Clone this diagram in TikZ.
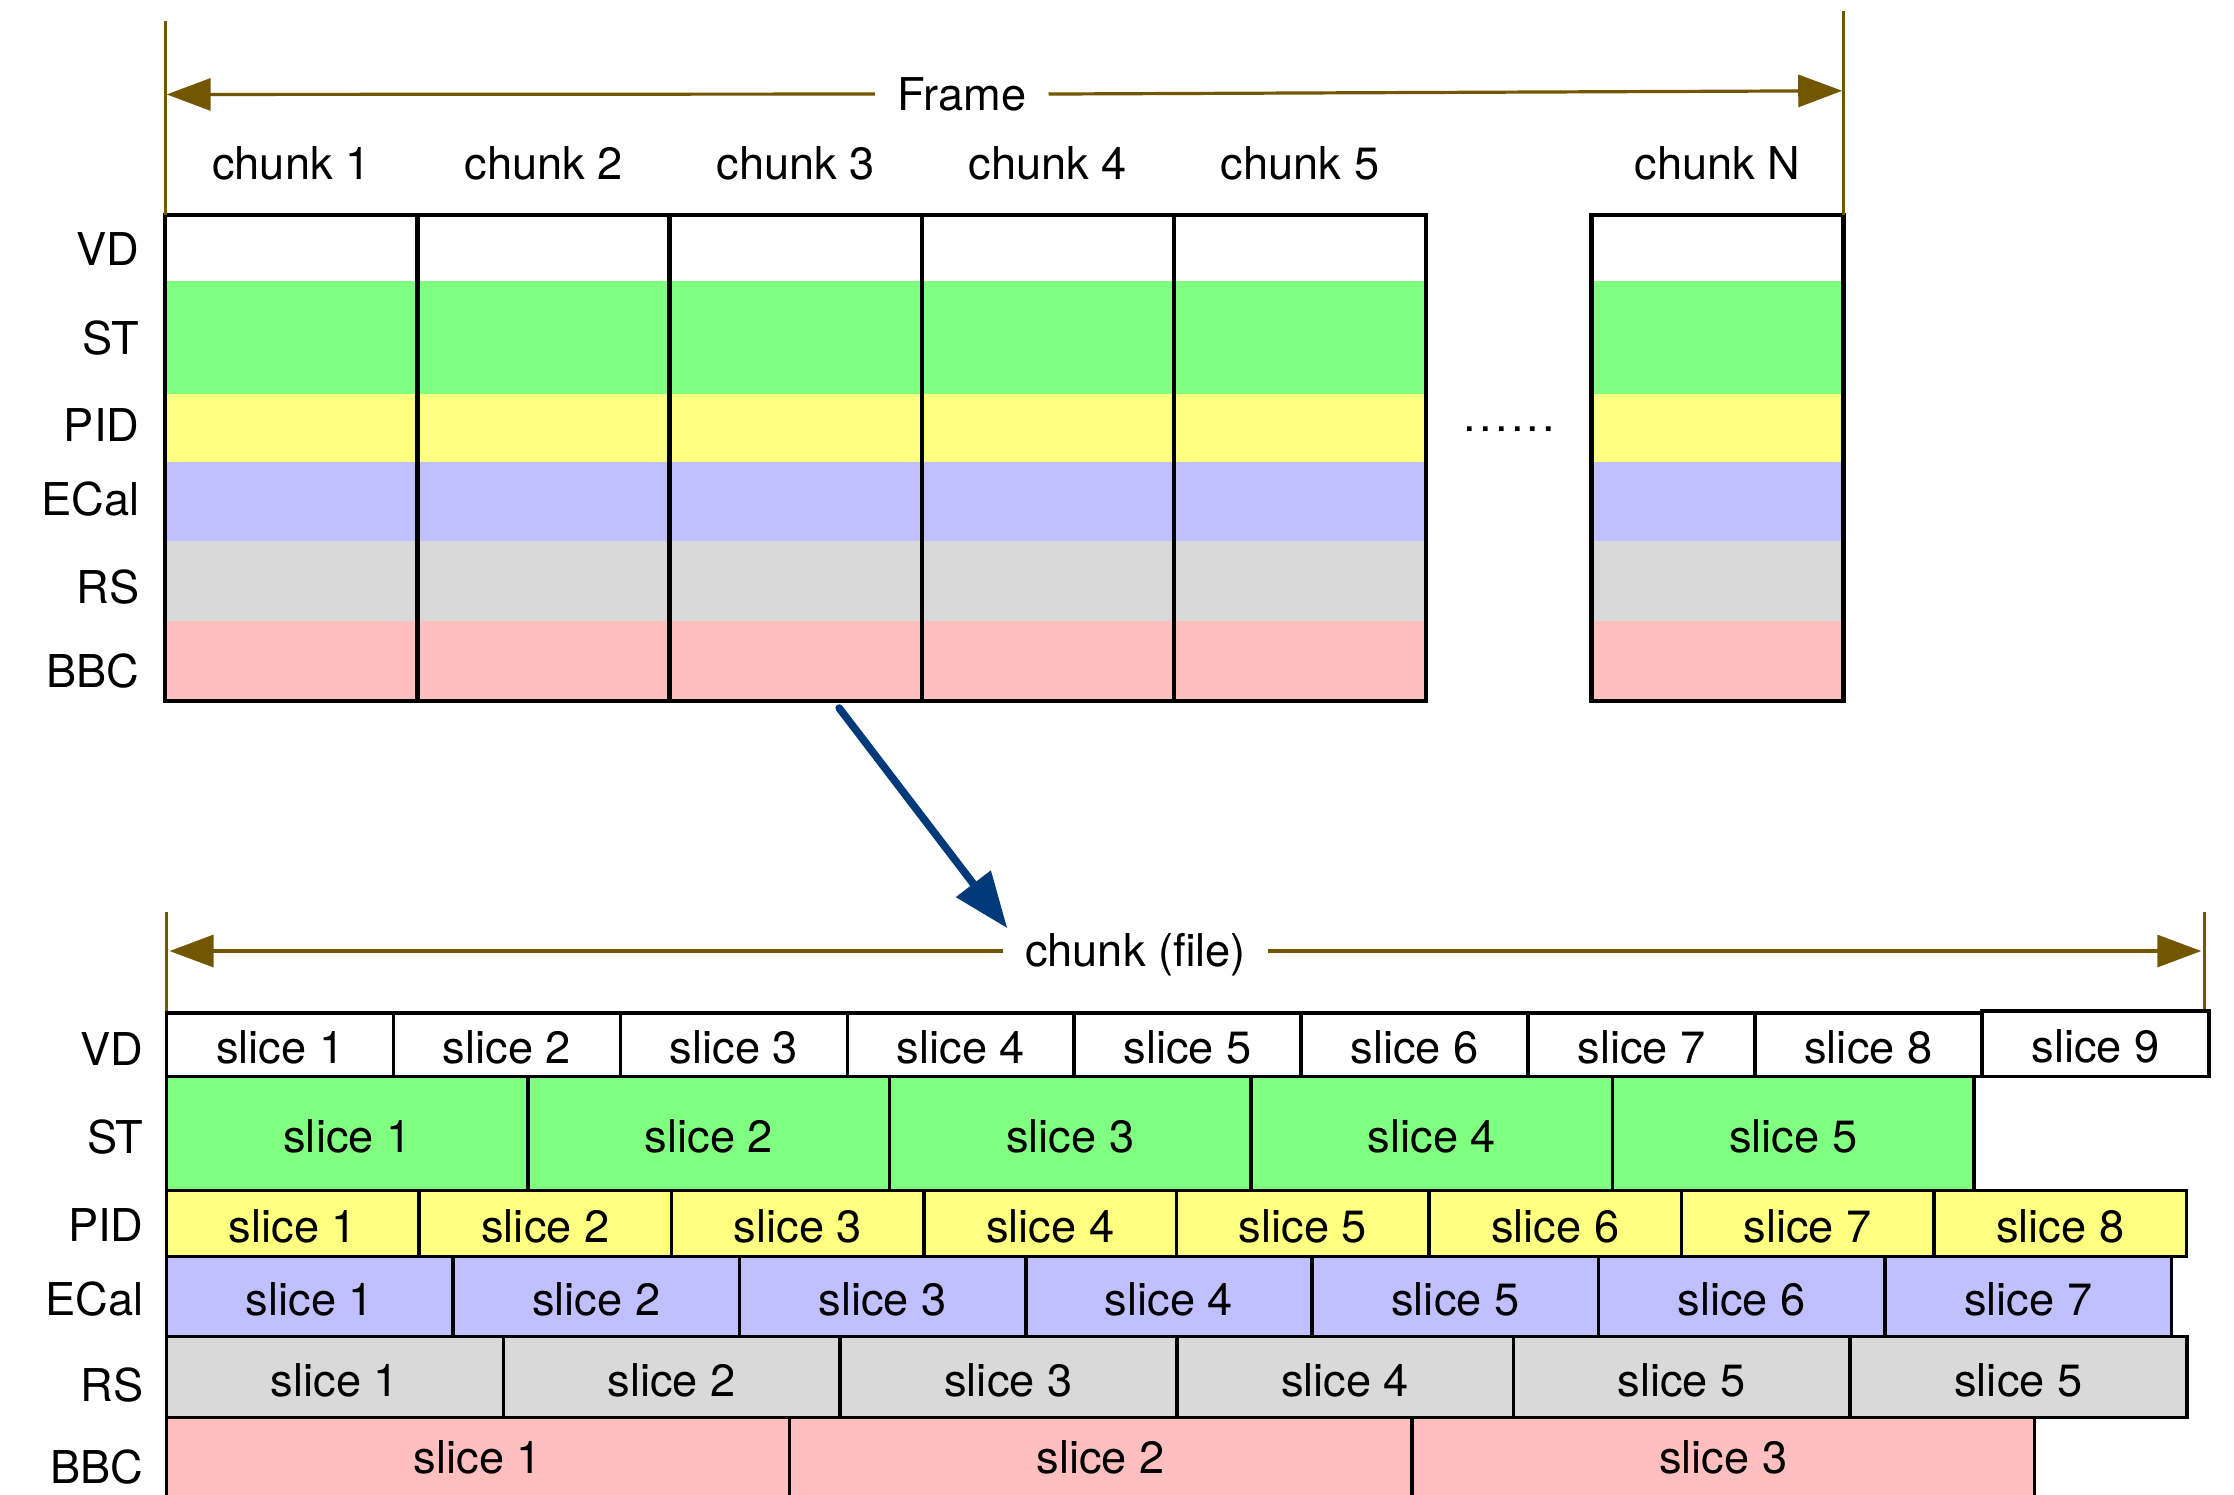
\documentclass[tikz,border=0pt]{standalone}
\usepackage{fontspec}
\setmainfont{TeX Gyre Heros}
\usetikzlibrary{arrows.meta}
\definecolor{cST}{HTML}{80FF80}
\definecolor{cPID}{HTML}{FFFF80}
\definecolor{cECal}{HTML}{C0C0FF}
\definecolor{cRS}{HTML}{D9D9D9}
\definecolor{cBBC}{HTML}{FFBFBF}
\definecolor{dimbrown}{HTML}{735600}
\definecolor{arrownavy}{HTML}{003A7A}
\newcommand{\pxu}{0.7124pt}
\tikzset{
  lbl/.style={anchor=east, inner sep=0pt},
  txt/.style={inner sep=0pt},
  chunkbox/.style={draw, line width=2.2pt, anchor=north west, inner sep=0pt, outer sep=0pt,
    minimum width={177*\pxu}, minimum height={341*\pxu}},
  slicebox/.style={draw, line width=1.8pt, anchor=north west, inner sep=0pt, outer sep=0pt,
    text height=19pt, text depth=0pt},
  dimline/.style={draw=dimbrown, line width=1.6pt},
  dimarrow/.style={dimbrown, line width=1.6pt, -{Triangle[length=22pt,width=16pt]}},
  bluearrow/.style={arrownavy, line width=3.8pt, line cap=round, -{Triangle[length=28pt,width=21pt]}},
  dimlabel/.style={inner xsep=11pt, inner ysep=0pt},
}
\begin{document}
\begin{tikzpicture}[x=0.7124pt,y=-0.7124pt,font=\fontsize{22.6}{27}\selectfont]
\useasboundingbox (0,0) rectangle (1568,1049);
\fill[white] (0,0) rectangle (1568,1049);
\clip (0,0) rectangle (1568,1049);

% ---------- top: frame of chunks ----------
\foreach \x in {116,293,470,647,824,1117} {
  \fill[cST]   (\x,197.5) rectangle ++(177,79);
  \fill[cPID]  (\x,276.5) rectangle ++(177,47.5);
  \fill[cECal] (\x,324)   rectangle ++(177,56);
  \fill[cRS]   (\x,380)   rectangle ++(177,56);
  \fill[cBBC]  (\x,436)   rectangle ++(177,56);
}
\foreach \x/\n in {116/1,293/2,470/3,647/4,824/5,1117/N} {
  \node[chunkbox] (c\n) at (\x,151) {};
  \node[txt] (h\n) at (\x+88.5,114.5) {chunk \n};
}
\foreach \t/\y in {VD/175,ST/237,PID/298,ECal/350,RS/412,BBC/471}
  \node[lbl] (tl\t) at (98,\y) {\t};

\node[txt] (dots) at (1059.5,301.5) {.\kern1.6pt.\kern1.6pt.\kern1.6pt.\kern1.6pt.\kern1.6pt.};

\coordinate (fL1) at (116,15);
\coordinate (fL2) at (116,151);
\coordinate (fR1) at (1294,8);
\coordinate (fR2) at (1294,151);
\draw[dimline] (fL1) -- (fL2);
\draw[dimline] (fR1) -- (fR2);
\node[txt, dimlabel] (frame) at (675,66) {Frame};
\coordinate (fAL) at (117,66.3);
\coordinate (fAR) at (1293,63.7);
\draw[dimarrow] (frame.west) -- (fAL);
\draw[dimarrow] (frame.east) -- (fAR);

% ---------- arrow ----------
\coordinate (bs) at (589,497);
\coordinate (be) at (707,651.5);
\draw[bluearrow] (bs) -- (be);

% ---------- bottom: chunk (file) ----------
\coordinate (bL1) at (117,640);
\coordinate (bL2) at (117,711);
\coordinate (bR1) at (1547,640);
\coordinate (bR2) at (1547,710);
\draw[dimline] (bL1) -- (bL2);
\draw[dimline] (bR1) -- (bR2);
\node[txt, dimlabel] (cf) at (797,670) {chunk (file)};
\coordinate (cAL) at (119,667.5);
\coordinate (cAR) at (1545,667.5);
\draw[dimarrow] (cf.west |- cAL) -- (cAL);
\draw[dimarrow] (cf.east |- cAR) -- (cAR);

\foreach \i in {1,...,8}
  \node[slicebox, fill=white, minimum width={159.25*\pxu}, minimum height={44.5*\pxu}]
    (vd\i) at ({117+(\i-1)*159.25},711) {slice \i};
\node[slicebox, fill=white, minimum width={159.5*\pxu}, minimum height={46*\pxu}]
    (vd9) at (1391,709.5) {slice 9};

\foreach \i in {1,...,5}
  \node[slicebox, fill=cST, minimum width={253.7*\pxu}, minimum height={80*\pxu}]
    (st\i) at ({117+(\i-1)*253.7},755.5) {slice \i};

\foreach \i in {1,...,8}
  \node[slicebox, fill=cPID, minimum width={177.2*\pxu}, minimum height={46.5*\pxu}]
    (pid\i) at ({117+(\i-1)*177.2},835.5) {slice \i};

\foreach \i in {1,...,7}
  \node[slicebox, fill=cECal, minimum width={201*\pxu}, minimum height={56*\pxu}]
    (ecal\i) at ({117+(\i-1)*201},882) {slice \i};

\foreach \i/\l in {1/1,2/2,3/3,4/4,5/5,6/5}
  \node[slicebox, fill=cRS, minimum width={236.3*\pxu}, minimum height={57*\pxu}]
    (rs\i) at ({117+(\i-1)*236.3},938) {slice \l};

\foreach \i in {1,...,3}
  \node[slicebox, fill=cBBC, text height=15pt, minimum width={437*\pxu}, minimum height={58*\pxu}]
    (bbc\i) at ({117+(\i-1)*437},995) {slice \i};

\foreach \t/\y in {VD/736,ST/798,PID/860,ECal/912,RS/972,BBC/1030}
  \node[lbl] (bl\t) at (101,\y) {\t};
\end{tikzpicture}
\end{document}
